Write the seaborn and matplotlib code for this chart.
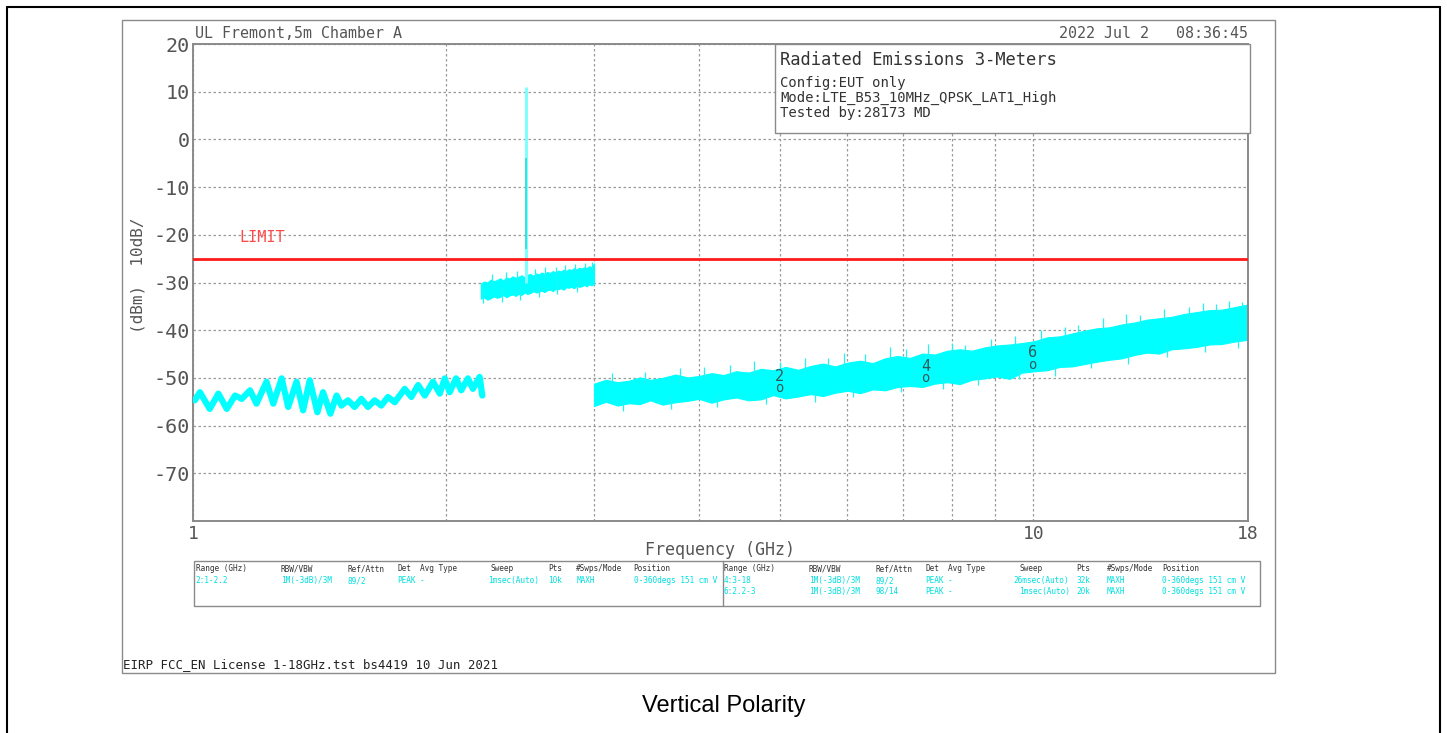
import matplotlib
matplotlib.use('Agg')
import matplotlib.pyplot as plt
import seaborn as sns
from matplotlib.patches import Rectangle
from matplotlib.lines import Line2D

# ---------------- data ----------------
seg1_freq = [1.005, 1.019, 1.047, 1.072, 1.097, 1.122, 1.143, 1.169, 1.190, 1.223,
             1.246, 1.275, 1.298, 1.328, 1.352, 1.377, 1.406, 1.428, 1.457, 1.482,
             1.502, 1.529, 1.557, 1.586, 1.615, 1.645, 1.675, 1.706, 1.738, 1.786,
             1.819, 1.853, 1.887, 1.930, 1.966, 1.993, 2.020, 2.056, 2.085, 2.124,
             2.153, 2.193, 2.209]
seg1_level = [-54.7, -53.0, -56.5, -53.3, -56.5, -53.7, -54.4, -52.6, -55.4, -50.8,
              -55.4, -50.1, -56.1, -50.8, -56.8, -50.5, -57.2, -53.0, -57.5, -53.7,
              -55.8, -54.7, -56.1, -54.4, -56.1, -54.7, -55.8, -54.0, -55.1, -52.3,
              -54.0, -51.5, -53.7, -50.8, -53.3, -50.1, -53.0, -50.1, -52.6, -50.1,
              -52.3, -49.8, -53.7]

seg2_freq = [2.20, 2.22, 2.24, 2.26, 2.28, 2.30, 2.32, 2.34, 2.36, 2.38, 2.40, 2.42,
             2.44, 2.46, 2.48, 2.50, 2.52, 2.54, 2.56, 2.58, 2.60, 2.62, 2.64, 2.66,
             2.68, 2.70, 2.72, 2.74, 2.76, 2.78, 2.80, 2.82, 2.84, 2.86, 2.88, 2.90,
             2.92, 2.94, 2.96, 2.98, 3.00]
seg2_low = [-33.4, -33.1, -33.6, -33.3, -32.9, -33.2, -33.0, -32.6, -33.1, -32.7, -32.5,
            -32.8, -32.4, -32.6, -32.1, -32.4, -32.2, -31.8, -32.1, -31.9, -31.7, -32.0,
            -31.6, -31.5, -31.8, -31.3, -31.4, -31.2, -31.5, -31.0, -31.1, -30.9, -31.2,
            -30.7, -30.9, -30.8, -30.5, -30.8, -30.4, -30.6, -30.3]
seg2_high = [-30.2, -29.8, -30.0, -29.4, -29.7, -29.5, -29.1, -29.6, -28.9, -29.2, -28.7,
             -29.0, -28.8, -28.5, -28.9, -28.4, -28.2, -28.6, -28.1, -28.3, -27.9, -28.2,
             -27.8, -28.0, -27.6, -27.9, -27.5, -27.7, -27.3, -27.6, -27.2, -27.4, -27.0,
             -27.3, -26.9, -27.1, -26.8, -27.0, -26.6, -26.8, -26.0]
seg2_spk_freq = [2.215, 2.27, 2.33, 2.36, 2.43, 2.45, 2.55, 2.58, 2.62, 2.70, 2.71, 2.77,
                 2.85, 2.86, 2.93, 2.98]
seg2_spk_from = [-31.5, -30.0, -31.0, -30.0, -30.0, -31.0, -29.5, -30.5, -29.0, -28.5,
                 -29.5, -28.5, -28.0, -29.0, -28.0, -27.5]
seg2_spk_to = [-34.2, -28.3, -34.0, -27.8, -27.6, -33.6, -27.2, -33.0, -26.8, -26.7,
               -32.4, -26.4, -26.2, -31.9, -25.9, -25.8]

spike_freq = [2.487, 2.4875]
spike_low = [-30.0, -23.0]
spike_high = [11.0, -4.0]

seg3_freq = [3.00, 3.10, 3.20, 3.30, 3.40, 3.50, 3.62, 3.75, 3.88, 4.00, 4.14, 4.28,
             4.43, 4.58, 4.74, 4.90, 5.07, 5.25, 5.43, 5.62, 5.81, 6.01, 6.22, 6.44,
             6.66, 6.89, 7.13, 7.38, 7.63, 7.90, 8.17, 8.45, 8.75, 9.05, 9.37, 9.69,
             10.03, 10.38, 10.74, 11.11, 11.50, 11.90, 12.31, 12.74, 13.18, 13.64,
             14.11, 14.60, 15.11, 15.64, 16.18, 16.74, 17.32, 18.00]
seg3_low = [-55.9, -55.0, -55.8, -55.3, -55.5, -54.7, -55.6, -55.1, -54.8, -54.4, -55.2,
            -54.5, -54.1, -54.7, -54.5, -53.6, -54.3, -53.9, -53.4, -53.8, -53.1, -52.7,
            -53.2, -52.4, -52.6, -51.9, -51.7, -51.9, -51.2, -50.9, -51.3, -50.4, -50.1,
            -49.7, -50.2, -48.9, -48.6, -48.4, -47.7, -47.6, -47.1, -46.6, -46.2, -45.9,
            -45.2, -44.7, -44.9, -44.0, -43.8, -43.5, -43.0, -42.9, -42.4, -42.0]
seg3_high = [-51.2, -50.4, -50.9, -50.6, -49.9, -50.4, -50.0, -49.3, -49.9, -49.6, -49.0,
             -49.4, -48.6, -48.9, -48.1, -48.4, -47.7, -48.3, -47.5, -47.0, -47.6, -46.8,
             -46.4, -46.9, -45.9, -45.4, -45.8, -44.9, -45.1, -44.3, -44.0, -44.3, -43.6,
             -43.2, -43.0, -42.7, -42.3, -41.5, -41.3, -40.7, -40.1, -39.6, -39.4, -38.8,
             -38.4, -37.8, -37.5, -37.2, -36.6, -36.2, -35.8, -35.7, -35.2, -34.6]
seg3_spk_freq = [3.15, 3.25, 3.45, 3.70, 3.80, 4.05, 4.20, 4.35, 4.65, 4.80, 5.00, 5.35,
                 5.50, 5.70, 5.95, 6.10, 6.30, 6.75, 6.95, 7.05, 7.50, 7.80, 8.00, 8.30,
                 8.60, 8.90, 9.50, 9.60, 10.20, 10.60, 10.90, 11.30, 11.70, 12.10, 12.90,
                 12.95, 13.40, 14.30, 14.40, 15.30, 15.90, 16.00, 16.50, 17.10, 17.50,
                 17.70]
seg3_spk_from = [-52.0, -54.5, -51.5, -54.0, -51.0, -50.5, -53.5, -50.0, -49.5, -53.0,
                 -49.0, -48.5, -52.5, -48.0, -47.5, -52.0, -47.5, -46.5, -50.5, -46.5,
                 -45.5, -50.0, -45.0, -45.0, -49.0, -44.0, -43.5, -48.0, -42.5, -47.0,
                 -42.0, -41.0, -45.5, -40.0, -39.0, -44.5, -39.0, -38.0, -43.0, -37.5,
                 -36.5, -42.0, -36.5, -36.0, -41.0, -35.5]
seg3_spk_to = [-49.0, -57.0, -48.8, -56.5, -48.0, -47.8, -56.0, -47.2, -46.5, -55.5,
               -46.6, -45.8, -55.0, -45.9, -44.8, -54.0, -44.9, -43.6, -53.0, -44.0,
               -42.9, -52.3, -42.6, -43.0, -51.5, -41.8, -41.2, -50.3, -40.0, -49.5,
               -39.3, -38.9, -48.0, -37.4, -36.7, -47.0, -36.9, -35.5, -45.7, -35.2,
               -34.2, -44.6, -34.6, -33.8, -43.8, -34.0]

limit_freq = [1.0, 18.0]
limit_level = [-25.0, -25.0]

marker_freq = [4.98, 7.44, 9.97]
marker_level = [-52.2, -50.0, -47.2]
marker_label = ['2', '4', '6']

y_ticks = [-70, -60, -50, -40, -30, -20, -10, 0, 10, 20]
x_major = [1, 10, 18]
x_major_labels = ['1', '10', '18']
x_minor = [2, 3, 4, 5, 6, 7, 8, 9]

table_cols_left = [195.6, 280.8, 347.9, 397.2, 419.8, 490.4, 548.4, 576.2, 633.6]
table_cols_right = [724, 808.6, 875.4, 925, 947.7, 1019, 1076, 1106.5, 1162]
table_header = ['Range (GHz)', 'RBW/VBW', 'Ref/Attn', 'Det', 'Avg Type', 'Sweep', 'Pts',
                '#Swps/Mode', 'Position']
row_left = ['2:1-2.2', '1M(-3dB)/3M', '89/2', 'PEAK', '-', '1msec(Auto)', '10k', 'MAXH',
            '0-360degs 151 cm V']
row_right1 = ['4:3-18', '1M(-3dB)/3M', '89/2', 'PEAK', '-', '26msec(Auto)', '32k', 'MAXH',
              '0-360degs 151 cm V']
row_right2 = ['6:2.2-3', '1M(-3dB)/3M', '98/14', 'PEAK', '-', '1msec(Auto)', '20k', 'MAXH',
              '0-360degs 151 cm V']
sweep_x_left = 487.6
sweep_x_right1 = 1013.7

# ---------------- figure ----------------
W, H = 1447, 733
sns.set_style('white')
plt.rcParams['font.family'] = ['DejaVu Sans Mono', 'DejaVu Sans']
plt.rcParams['axes.unicode_minus'] = False

fig = plt.figure(figsize=(W / 100, H / 100), dpi=100)
fig.patch.set_facecolor('white')


def fx(x):
    return x / W


def fy(y):
    return 1 - y / H


ax = fig.add_axes([fx(193), fy(521), (1248 - 193) / W, (521 - 44) / H])
ax.set_facecolor('white')
ax.set_xscale('log')
ax.set_xlim(1, 18)
ax.set_ylim(-80, 20)
ax.set_axisbelow(True)

CYAN = '#00ffff'
ax.fill_between(seg2_freq, seg2_low, seg2_high, color=CYAN, lw=0.8, edgecolor=CYAN, zorder=2)
ax.fill_between(seg3_freq, seg3_low, seg3_high, color=CYAN, lw=0.8, edgecolor=CYAN, zorder=2)
ax.vlines(seg2_spk_freq, seg2_spk_from, seg2_spk_to, colors='#20f4f4', lw=0.9, zorder=2)
ax.vlines(seg3_spk_freq, seg3_spk_from, seg3_spk_to, colors='#20f4f4', lw=0.9, zorder=2)
sns.lineplot(x=seg1_freq, y=seg1_level, ax=ax, color=CYAN, lw=4.5, estimator=None,
             sort=False, legend=False, zorder=3)
ax.vlines(spike_freq, spike_low, spike_high, colors=['#80ffff', '#30d8d8'],
          lw=[2.2, 1.2], zorder=4)
sns.lineplot(x=limit_freq, y=limit_level, ax=ax, color='#ff1a1a', lw=2, estimator=None,
             sort=False, legend=False, zorder=5)

ax.text(1.208, -20.6, 'LIMIT', color='#ff4a4a', fontsize=11, ha='center', va='center')

for f, lvl, lab in zip(marker_freq, marker_level, marker_label):
    ax.annotate('o', (f, lvl), ha='center', va='center', fontsize=10, color='#2f5a5a',
                zorder=6)
    ax.annotate(lab, (f, lvl), xytext=(0, 8.5), textcoords='offset points', ha='center',
                va='center', fontsize=11, color='#2f5a5a', zorder=6)

ax.set_yticks(y_ticks)
ax.set_yticklabels([str(v) for v in y_ticks])
ax.set_xticks(x_major)
ax.set_xticklabels(x_major_labels)
ax.set_xticks(x_minor, minor=True)
ax.set_xticklabels([], minor=True)
ax.tick_params(axis='y', length=0, pad=2, labelsize=14.5, labelcolor='#555555')
ax.tick_params(axis='x', which='both', length=0, pad=3, labelsize=13, labelcolor='#555555')
ax.grid(axis='y', ls=(0, (2, 2)), color='#9a9a9a', lw=0.9)
ax.grid(axis='x', which='both', ls=(0, (2, 2)), color='#9a9a9a', lw=0.9)
for s in ax.spines.values():
    s.set_color('#8a8a8a')
    s.set_linewidth(1.4)

# ---------------- surrounding annotations ----------------
for (x0, y0, x1, y1) in [(7, 7, 1440, 7), (7, 7, 7, 733), (1440, 7, 1440, 733)]:
    fig.add_artist(Line2D([fx(x0), fx(x1)], [fy(y0), fy(y1)], color='black', lw=1.5))

fig.add_artist(Rectangle((fx(122), fy(673)), (1275 - 122) / W, (673 - 20) / H,
                         fill=False, edgecolor='#8a8a8a', lw=1.0))

fig.text(fx(195), fy(34), 'UL Fremont,5m Chamber A', fontsize=10.8, color='#555555',
         ha='left', va='center')
fig.text(fx(1248), fy(34), '2022 Jul 2   08:36:45', fontsize=10.8, color='#555555',
         ha='right', va='center')

fig.add_artist(Rectangle((fx(775), fy(133)), (1250 - 775) / W, (133 - 44) / H,
                         facecolor='white', edgecolor='#8a8a8a', lw=1.0, zorder=2))
fig.text(fx(780), fy(60), 'Radiated Emissions 3-Meters', fontsize=12.3, color='#333333',
         ha='left', va='center', zorder=3)
for yy, t in [(83, 'Config:EUT only'), (98, 'Mode:LTE_B53_10MHz_QPSK_LAT1_High'),
              (113, 'Tested by:28173 MD')]:
    fig.text(fx(780), fy(yy), t, fontsize=10, color='#333333', ha='left', va='center',
             zorder=3)

fig.text(fx(138), fy(275), '(dBm)  10dB/', fontsize=11.5, color='#555555', rotation=90,
         ha='center', va='center')
fig.text(fx(720), fy(550), 'Frequency (GHz)', fontsize=12, color='#555555', ha='center',
         va='center')

# settings table
fig.add_artist(Rectangle((fx(194), fy(606)), (1260 - 194) / W, (606 - 561) / H,
                         fill=False, edgecolor='#8a8a8a', lw=1.0))
fig.add_artist(Line2D([fx(722.8), fx(722.8)], [fy(561), fy(606)], color='#8a8a8a', lw=1.0))
TS = 5.6
for xs in (table_cols_left, table_cols_right):
    for x, t in zip(xs, table_header):
        fig.text(fx(x), fy(571), t, fontsize=TS, color='#333333', ha='left', va='baseline')
for i, (x, t) in enumerate(zip(table_cols_left, row_left)):
    xx = sweep_x_left if i == 5 else x
    fig.text(fx(xx), fy(583), t, fontsize=TS, color='#00e0e0', ha='left', va='baseline')
for i, (x, t) in enumerate(zip(table_cols_right, row_right1)):
    xx = sweep_x_right1 if i == 5 else x
    fig.text(fx(xx), fy(583), t, fontsize=TS, color='#00e0e0', ha='left', va='baseline')
for x, t in zip(table_cols_right, row_right2):
    fig.text(fx(x), fy(594), t, fontsize=TS, color='#00e0e0', ha='left', va='baseline')

fig.text(fx(123), fy(665), 'EIRP FCC_EN License 1-18GHz.tst bs4419 10 Jun 2021',
         fontsize=8.9, color='#222222', ha='left', va='center')

fig.text(fx(724), fy(706), 'Vertical Polarity', fontsize=17, color='black',
         family=['Liberation Sans', 'DejaVu Sans'], ha='center', va='center')

fig.savefig('out.png', dpi=100)
